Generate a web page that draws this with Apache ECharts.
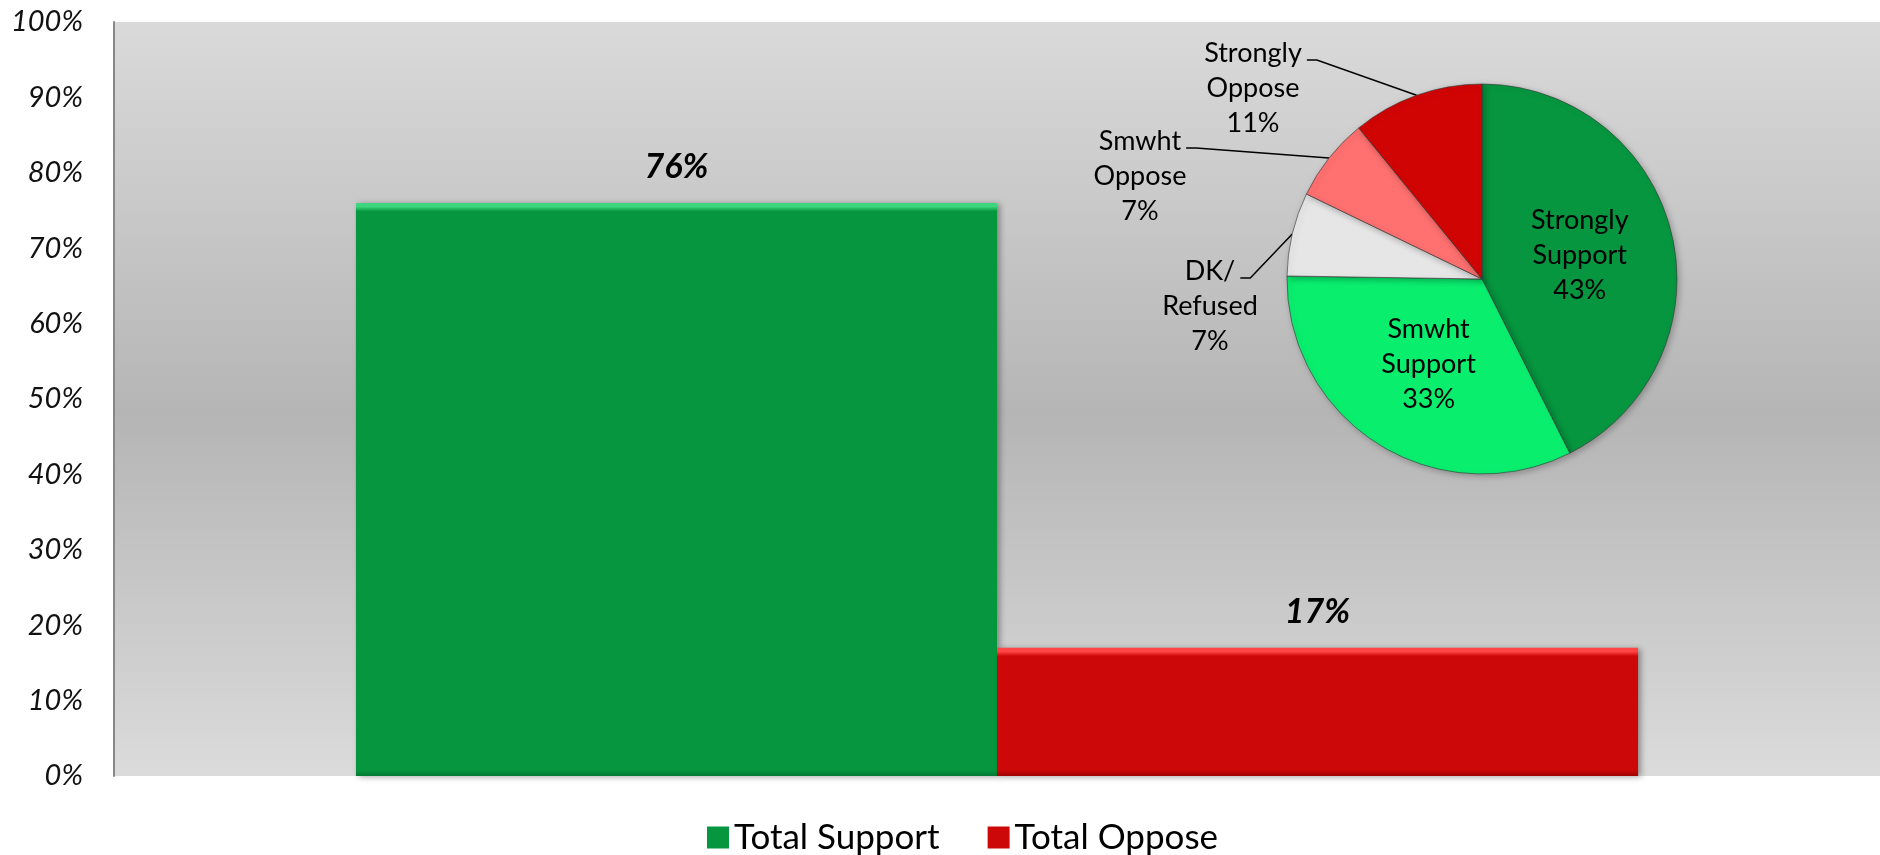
<!DOCTYPE html>
<html>
<head>
<meta charset="utf-8">
<title>Support vs Oppose</title>
<script src="https://cdn.jsdelivr.net/npm/echarts@6/dist/echarts.min.js"></script>
<style>
  html, body { margin: 0; padding: 0; background: #ffffff; }
  #chart { width: 1880px; height: 855px; }
</style>
</head>
<body>
<div id="chart"></div>
<script>
// Totals shown as bars
const barSeriesNames = ['Total Support', 'Total Oppose'];
const barValues = [76, 17];

// Breakdown shown in the inset pie
const pieNames = ['Strongly\nSupport', 'Smwht\nSupport', 'DK/\nRefused', 'Smwht\nOppose', 'Strongly\nOppose'];
const pieValues = [43, 33, 7, 7, 11];

// Value axis
const yMin = 0;
const yMax = 100;
const yStep = 10;

// Styling
const barColors = ['#05963F', '#CC0808'];
const barLights = ['#3DD67E', '#FF4545'];
const barDarks = ['#047A33', '#9E0505'];
const pieColors = ['#06963F', '#0AEE6E', '#E6E6E6', '#FF7070', '#D10404'];
const insideLabels = [true, true, false, false, false];

// plot area runs slightly past the right edge of the canvas
const GRID = { left: 114, top: 22, width: 1775, bottom: 79 };
const PLOT_H = 855 - GRID.top - GRID.bottom;
const PIE_CX = 1482, PIE_CY = 279, PIE_R = 195;
// offsets of the outside pie labels from the pie centre
const outerLabelOffsets = { 2: [-272, 27], 3: [-342, -103], 4: [-229, -191] };

const FONT = 'Lato, "Open Sans", sans-serif';
const PIE_FONT_SIZE = 27;
const PIE_LINE_H = 35;

// width of a piece of text in the pie label font
const measureCtx = document.createElement('canvas').getContext('2d');
function textWidth(s) {
  measureCtx.font = PIE_FONT_SIZE + 'px Lato, "Open Sans", sans-serif';
  return measureCtx.measureText(s).width;
}

// mid angle (clockwise from 12 o'clock) of each pie slice
const pieTotal = pieValues.reduce((a, b) => a + b, 0);
const pieMidAngles = [];
pieValues.reduce((cum, v) => {
  pieMidAngles.push((cum + v / 2) / pieTotal * Math.PI * 2);
  return cum + v;
}, 0);

// vertical bevel: light top edge, darker bottom edge (a few px regardless of height)
function bevelFill(i, v) {
  const h = v / (yMax - yMin) * PLOT_H;
  const t = 6 / h;
  return new echarts.graphic.LinearGradient(0, 0, 0, 1, [
    { offset: 0, color: barLights[i] },
    { offset: t * 0.6, color: barLights[i] },
    { offset: t * 1.4, color: barColors[i] },
    { offset: 1 - t, color: barColors[i] },
    { offset: 1, color: barDarks[i] }
  ]);
}

const chart = echarts.init(document.getElementById('chart'), null, { renderer: 'canvas' });

const barSeries = barSeriesNames.map((name, i) => ({
  name: name,
  type: 'bar',
  data: [{ value: barValues[i], itemStyle: { color: bevelFill(i, barValues[i]) } }],
  barGap: '0%',
  barCategoryGap: '27.4%',
  itemStyle: {
    color: barColors[i],
    shadowColor: 'rgba(0,0,0,0.35)',
    shadowBlur: 6,
    shadowOffsetX: 3,
    shadowOffsetY: 1
  },
  label: {
    show: true,
    position: 'top',
    distance: 19,
    formatter: '{c}%',
    fontFamily: FONT,
    fontSize: 34,
    fontWeight: 'bold',
    fontStyle: 'italic',
    color: '#000'
  },
  z: 2
}));

const pieSeries = {
  name: 'Breakdown',
  type: 'pie',
  center: [PIE_CX, PIE_CY],
  radius: PIE_R,
  startAngle: 90,
  clockwise: true,
  legendHoverLink: false,
  z: 5,
  itemStyle: {
    borderColor: 'rgba(60,60,60,0.65)',
    borderWidth: 1,
    shadowColor: 'rgba(0,0,0,0.25)',
    shadowBlur: 6,
    shadowOffsetX: 2,
    shadowOffsetY: 2
  },
  label: {
    formatter: '{b}\n{c}%',
    fontFamily: FONT,
    fontSize: PIE_FONT_SIZE,
    lineHeight: PIE_LINE_H,
    color: '#000',
    align: 'center'
  },
  labelLine: {
    show: true,
    length: 20,
    length2: 10,
    lineStyle: { color: '#000', width: 1.5 }
  },
  // outside labels sit up-left of the pie; the leader line runs from the
  // slice rim to the end of the label's first line
  labelLayout: function (params) {
    const i = params.dataIndex;
    const off = outerLabelOffsets[i];
    if (!off) return {};
    const lx = PIE_CX + off[0];
    const ly = PIE_CY + off[1];
    const lines = pieNames[i].split('\n');
    const nLines = lines.length + 1;
    const firstW = textWidth(lines[0]);
    const ax = lx + firstW / 2 + 5;
    const ay = ly - (nLines - 1) / 2 * PIE_LINE_H + 7;
    const a = pieMidAngles[i];
    const ex = PIE_CX + PIE_R * Math.sin(a);
    const ey = PIE_CY - PIE_R * Math.cos(a);
    return {
      x: lx, y: ly, align: 'center', verticalAlign: 'middle',
      labelLinePoints: [[ex, ey], [ax + 10, ay], [ax, ay]]
    };
  },
  data: pieNames.map((n, i) => ({
    name: n,
    value: pieValues[i],
    itemStyle: { color: pieColors[i] },
    label: insideLabels[i] ? { position: 'inside' } : { position: 'outside' },
    labelLine: { show: !insideLabels[i] }
  }))
};

const option = {
  backgroundColor: '#ffffff',
  animation: false,
  grid: {
    left: GRID.left, top: GRID.top, width: GRID.width, bottom: GRID.bottom,
    show: true,
    borderWidth: 0,
    backgroundColor: new echarts.graphic.LinearGradient(0, 0, 0, 1, [
      { offset: 0, color: '#DADADA' },
      { offset: 0.52, color: '#B5B5B5' },
      { offset: 1, color: '#DBDBDB' }
    ])
  },
  legend: {
    data: barSeriesNames,
    left: 702,
    top: 815,
    icon: 'rect',
    itemWidth: 22,
    itemHeight: 22,
    itemGap: 48,
    textStyle: { fontFamily: FONT, fontSize: 35, color: '#000' }
  },
  xAxis: {
    type: 'category',
    data: [''],
    axisLine: { show: false },
    axisTick: { show: false },
    axisLabel: { show: false },
    splitLine: { show: false }
  },
  yAxis: {
    type: 'value',
    min: yMin,
    max: yMax,
    interval: yStep,
    axisLine: { show: true, lineStyle: { color: '#878787', width: 2 } },
    axisTick: { show: false },
    splitLine: { show: false },
    axisLabel: {
      formatter: '{value}%',
      margin: 31,
      fontFamily: FONT,
      fontSize: 29,
      fontStyle: 'italic',
      color: '#111'
    }
  },
  series: barSeries.concat([pieSeries])
};

chart.setOption(option);
</script>
</body>
</html>
